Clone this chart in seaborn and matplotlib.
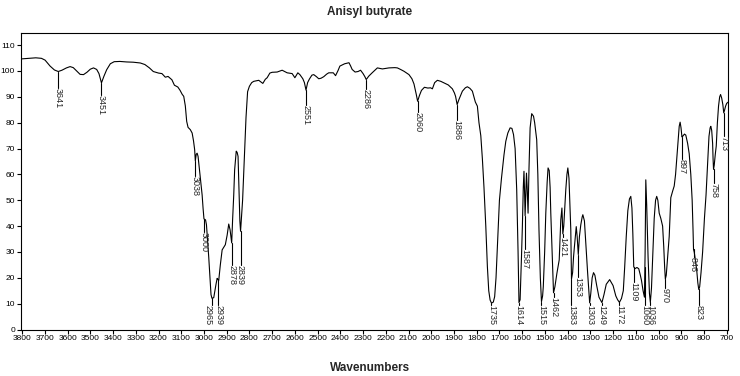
import numpy as np
import pandas as pd
import matplotlib
matplotlib.use("Agg")
import matplotlib.pyplot as plt
import matplotlib.transforms as mtransforms
import seaborn as sns

# IR spectrum (wavenumber in cm-1, %T)
wavenumber = [
    3800, 3770, 3740, 3715, 3699, 3677, 3658, 3641, 3625, 3605, 3589, 3575, 3560, 3545,
    3530, 3515, 3500, 3486, 3472, 3462, 3451, 3440, 3428, 3412, 3395, 3370, 3340, 3311,
    3280, 3260, 3240, 3223, 3200, 3185, 3170, 3158, 3150, 3141, 3130, 3115, 3105, 3096,
    3089, 3082, 3076, 3070, 3060, 3052, 3046, 3041, 3038, 3034, 3030, 3026, 3022, 3016,
    3008, 3004, 3000, 2993, 2989, 2984, 2979, 2974, 2969, 2965, 2957, 2953, 2947, 2942,
    2939, 2935, 2928, 2920, 2906, 2898, 2891, 2885, 2878, 2874, 2869, 2865, 2858, 2854,
    2850, 2846, 2842, 2839, 2835, 2830, 2822, 2815, 2808, 2800, 2790, 2781, 2770, 2759,
    2750, 2741, 2730, 2722, 2710, 2700, 2678, 2656, 2645, 2634, 2612, 2600, 2592, 2587,
    2578, 2565, 2558, 2551, 2544, 2536, 2525, 2517, 2505, 2495, 2485, 2473, 2460, 2451,
    2431, 2421, 2410, 2402, 2381, 2362, 2355, 2348, 2335, 2322, 2311, 2300, 2292, 2286,
    2275, 2260, 2237, 2215, 2186, 2160, 2149, 2135, 2120, 2098, 2085, 2076, 2066, 2060,
    2052, 2043, 2030, 2015, 2003, 1995, 1985, 1973, 1958, 1944, 1925, 1907, 1898, 1893,
    1886, 1878, 1863, 1850, 1841, 1830, 1819, 1806, 1797, 1790, 1782, 1775, 1768, 1760,
    1753, 1747, 1741, 1735, 1727, 1721, 1715, 1709, 1700, 1691, 1680, 1672, 1663, 1653,
    1645, 1638, 1631, 1624, 1618, 1614, 1609, 1603, 1599, 1595, 1592, 1589, 1587, 1584,
    1581, 1578, 1574, 1570, 1565, 1558, 1550, 1545, 1536, 1531, 1526, 1520, 1515, 1510,
    1507, 1501, 1496, 1490, 1486, 1481, 1477, 1474, 1468, 1462, 1456, 1447, 1437, 1430,
    1425, 1421, 1417, 1413, 1408, 1403, 1399, 1394, 1390, 1386, 1383, 1378, 1374, 1370,
    1365, 1362, 1358, 1353, 1348, 1342, 1336, 1333, 1326, 1319, 1312, 1308, 1303, 1298,
    1292, 1286, 1280, 1272, 1262, 1249, 1240, 1230, 1215, 1200, 1188, 1180, 1172, 1163,
    1155, 1149, 1142, 1135, 1128, 1122, 1117, 1113, 1109, 1104, 1095, 1087, 1080, 1075,
    1068, 1062, 1059, 1056, 1052, 1046, 1040, 1036, 1031, 1025, 1019, 1013, 1008, 1003,
    997, 990, 982, 977, 973, 970, 966, 960, 953, 946, 938, 931, 925, 919,
    913, 909, 905, 901, 897, 893, 886, 880, 872, 865, 858, 852, 848, 846,
    843, 838, 832, 827, 823, 819, 813, 806, 798, 791, 784, 778, 773, 770,
    766, 762, 760, 758, 755, 750, 746, 741, 736, 731, 727, 722, 717, 713,
    709, 705, 700, 693,
]
transmittance = [
    104.7, 104.9, 105.1, 104.9, 104.2, 101.9, 100.4, 99.8, 100.3, 101.2, 101.7, 101.3, 100.0, 98.7,
    98.6, 99.5, 100.7, 101.2, 100.6, 99.0, 95.4, 98.0, 100.5, 102.8, 103.6, 103.7, 103.5, 103.4,
    103.1, 102.5, 101.2, 99.8, 99.2, 99.0, 97.6, 97.9, 97.3, 96.6, 94.5, 93.8, 92.5, 91.0,
    90.2, 86.5, 80.5, 78.2, 77.3, 76.0, 73.0, 69.6, 65.2, 67.8, 68.2, 67.0, 63.0, 58.5,
    52.0, 47.0, 42.8, 42.4, 40.5, 34.0, 28.0, 21.0, 13.5, 12.1, 12.3, 14.5, 17.5, 19.8,
    19.4, 19.0, 25.0, 30.8, 32.8, 36.5, 40.8, 38.5, 33.5, 42.4, 52.0, 61.8, 69.0, 68.5,
    67.0, 55.0, 42.0, 38.0, 43.0, 50.0, 67.0, 82.0, 92.0, 94.1, 95.5, 96.0, 96.2, 96.4,
    95.8, 95.2, 96.8, 97.4, 99.2, 99.5, 99.6, 100.3, 99.8, 99.3, 99.0, 97.4, 98.6, 99.3,
    98.6, 97.0, 95.5, 92.6, 95.5, 96.9, 98.4, 98.6, 97.8, 97.0, 97.2, 97.8, 98.8, 99.3,
    99.3, 98.2, 100.2, 101.9, 102.8, 103.2, 102.0, 100.6, 99.6, 99.8, 100.3, 99.0, 97.8, 96.7,
    98.0, 99.3, 101.2, 100.8, 101.2, 101.3, 101.2, 100.6, 99.9, 98.6, 97.0, 95.0, 91.0, 88.3,
    90.5, 92.5, 93.7, 93.4, 93.5, 93.1, 95.5, 96.4, 96.0, 95.4, 94.6, 93.1, 91.5, 90.2,
    87.0, 89.0, 92.2, 93.5, 93.9, 93.3, 92.2, 88.0, 86.4, 80.0, 75.0, 66.0, 55.0, 40.0,
    24.3, 15.0, 11.4, 10.2, 10.6, 12.7, 20.0, 32.1, 50.0, 58.5, 67.5, 72.8, 76.0, 78.0,
    77.8, 75.4, 70.0, 54.1, 30.0, 10.4, 11.5, 28.0, 40.0, 55.0, 61.2, 52.0, 44.0, 52.0,
    60.5, 55.0, 45.0, 62.0, 78.0, 83.5, 82.5, 80.0, 73.4, 60.0, 38.6, 20.0, 10.8, 13.0,
    16.6, 30.0, 45.0, 57.0, 62.5, 61.5, 55.0, 45.0, 30.0, 14.2, 16.5, 21.8, 26.9, 42.4,
    47.0, 37.0, 40.0, 46.0, 54.1, 60.0, 62.5, 58.5, 48.0, 38.6, 19.5, 22.0, 28.0, 32.1,
    37.0, 39.8, 36.0, 29.0, 36.0, 40.5, 43.5, 44.4, 42.0, 32.1, 22.0, 16.6, 10.3, 14.0,
    20.0, 22.0, 21.0, 17.0, 12.5, 10.4, 13.5, 17.5, 19.3, 17.0, 13.0, 11.5, 10.5, 12.0,
    15.0, 24.0, 36.0, 46.0, 50.5, 51.5, 47.0, 37.0, 24.3, 23.5, 24.0, 23.5, 21.0, 19.0,
    15.0, 12.5, 30.0, 57.9, 48.0, 28.0, 14.0, 10.5, 16.0, 30.0, 43.0, 50.0, 51.5, 50.0,
    45.0, 43.0, 40.0, 32.0, 24.0, 19.5, 21.0, 28.0, 36.0, 51.0, 53.5, 55.5, 60.0, 67.0,
    74.0, 78.6, 80.2, 78.0, 74.5, 74.8, 75.6, 75.2, 72.0, 68.0, 60.0, 50.0, 38.0, 31.0,
    30.0, 27.0, 23.0, 18.0, 15.5, 16.5, 22.0, 30.0, 43.0, 52.0, 64.0, 74.7, 78.0, 78.6,
    77.0, 72.0, 66.0, 62.0, 63.5, 68.0, 71.0, 80.0, 86.4, 90.0, 90.9, 89.5, 87.0, 83.8,
    85.0, 86.4, 87.5, 88.0,
]

# picked peaks and where their labels start (%T of the label top)
peak_wn = [3641, 3451, 3038, 3000, 2965, 2939, 2878, 2839, 2551, 2286, 2060, 1886,
           1735, 1614, 1587, 1515, 1462, 1421, 1383, 1353, 1303, 1249, 1172, 1109,
           1060, 1036, 970, 897, 846, 823, 758, 713]
label_top = [93.5, 90.9, 59.2, 37.9, 9.5, 9.5, 25.0, 25.0, 87.0, 93.1, 84.0, 81.0,
             9.5, 9.5, 31.0, 9.5, 12.4, 35.9, 9.5, 20.3, 9.5, 9.5, 9.5, 18.5,
             9.5, 9.5, 16.0, 66.0, 28.0, 9.5, 56.5, 75.0]
# labels nudged sideways (pixels) so neighbours don't collide
label_nudge = {2965: -4, 2939: 1}

df = pd.DataFrame({"Wavenumbers": wavenumber, "T": transmittance})

sns.set_style("ticks")
plt.rcParams["font.family"] = ["Liberation Sans", "DejaVu Sans"]

fig = plt.figure(figsize=(7.4, 3.76), dpi=100)
ax = fig.add_axes([21 / 740, 1 - 329.5 / 376, 707.3 / 740, 296.5 / 376])

sns.lineplot(data=df, x="Wavenumbers", y="T", estimator=None, color="black",
             linewidth=0.8, ax=ax)

# peak markers: short vertical line down to the rotated label
xs = df["Wavenumbers"].values[::-1]
ys = df["T"].values[::-1]
for wn, top in zip(peak_wn, label_top):
    yp = np.interp(wn, xs, ys)
    if yp > top:
        ax.plot([wn, wn], [yp, top], color="black", linewidth=0.8)
    dx = label_nudge.get(wn, 0)
    tr = ax.transData + mtransforms.ScaledTranslation(dx / 100, 0, fig.dpi_scale_trans)
    ax.text(wn, top, str(wn), rotation=270, ha="center", va="top", fontsize=6.5,
            transform=tr)

ax.set_xlim(3805, 693)
ax.set_ylim(0, 114.7)
ax.set_xticks(np.arange(3800, 699, -100))
ax.set_yticks(np.arange(0, 111, 10))
ax.tick_params(axis="both", labelsize=6, length=2.8, width=0.8, colors="black")
ax.tick_params(axis="x", pad=1)
ax.tick_params(axis="y", pad=1.5)
for s in ax.spines.values():
    s.set_linewidth(0.8)
    s.set_color("black")
    s.set_visible(True)
ax.set_xlabel("")
ax.set_ylabel("")

fig.text(0.5, 1 - 12 / 376, "Anisyl butyrate", ha="center", va="center",
         fontsize=8.5, fontweight="bold")
fig.text(0.5, 1 - 368 / 376, "Wavenumbers", ha="center", va="center",
         fontsize=8.5, fontweight="bold")

fig.savefig("out.png", dpi=100)
